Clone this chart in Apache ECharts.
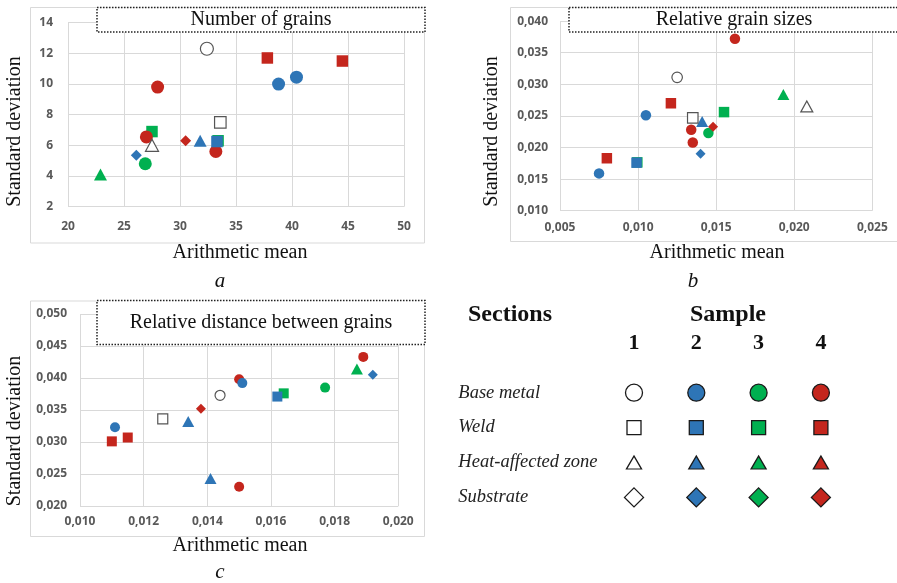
<!DOCTYPE html>
<html>
<head>
<meta charset="utf-8">
<script src="https://cdn.jsdelivr.net/npm/echarts@6/dist/echarts.min.js"></script>
<style>
  html, body { margin: 0; padding: 0; background: #fff; }
  #chart { width: 897px; height: 583px; }
</style>
</head>
<body>
<div id="chart"></div>
<script>
// Samples (columns of the key) and sections (rows of the key)
const sampleLabels = ['1', '2', '3', '4'];
const sectionNames = ['Base metal', 'Weld', 'Heat-affected zone', 'Substrate'];

// Points are [sample, arithmetic mean, standard deviation]
const grainsBaseMetal = [[1, 32.4, 12.3], [2, 38.8, 10.0], [2, 40.4, 10.45], [3, 26.9, 4.8], [4, 27.0, 6.55], [4, 28.0, 9.8], [4, 33.2, 5.6]];
const grainsWeld = [[1, 33.6, 7.5], [2, 33.3, 6.25], [3, 27.5, 6.9], [3, 33.4, 6.3], [4, 37.8, 11.7], [4, 44.5, 11.5]];
const grainsHaz = [[1, 27.5, 6.0], [2, 31.8, 6.3], [3, 22.9, 4.1]];
const grainsSubstrate = [[2, 26.1, 5.35], [4, 30.5, 6.3]];

const sizesBaseMetal = [[1, 0.0125, 0.0311], [2, 0.0075, 0.0159], [2, 0.0105, 0.0251], [3, 0.0145, 0.0223], [4, 0.0134, 0.0228], [4, 0.0135, 0.0208], [4, 0.0162, 0.0372]];
const sizesWeld = [[1, 0.0135, 0.0247], [2, 0.0099, 0.0176], [3, 0.00995, 0.01765], [3, 0.0155, 0.0256], [4, 0.0080, 0.0183], [4, 0.0121, 0.0270]];
const sizesHaz = [[1, 0.0208, 0.0265], [2, 0.0141, 0.0241], [3, 0.0193, 0.0284]];
const sizesSubstrate = [[2, 0.0140, 0.0190], [4, 0.0148, 0.0233]];

const distBaseMetal = [[1, 0.0144, 0.0373], [2, 0.0111, 0.0323], [2, 0.0151, 0.0392], [3, 0.0177, 0.0385], [4, 0.0150, 0.0398], [4, 0.0150, 0.0230], [4, 0.0189, 0.0433]];
const distWeld = [[1, 0.0126, 0.0336], [2, 0.0162, 0.0371], [3, 0.0164, 0.0376], [4, 0.0110, 0.0301], [4, 0.0115, 0.0307]];
const distHaz = [[2, 0.0134, 0.0332], [2, 0.0141, 0.0243], [3, 0.0187, 0.0414]];
const distSubstrate = [[2, 0.0192, 0.0405], [4, 0.0138, 0.0352]];

// Axis ranges: [min, max, interval]
const grainsX = [20, 50, 5], grainsY = [2, 14, 2];
const sizesX = [0.005, 0.025, 0.005], sizesY = [0.010, 0.040, 0.005];
const distX = [0.010, 0.020, 0.002], distY = [0.020, 0.050, 0.005];

// ---- styling ----
const sampleColors = ['#ffffff', '#2e75b6', '#00b050', '#c4261d'];
const sectionSymbols = ['circle', 'rect', 'triangle', 'diamond'];
const drawOrder = [2, 3, 1, 0]; // green, red, blue, white (later ones on top)
const tickFont = { color: '#595959', fontFamily: 'Open Sans', fontWeight: 'bold', fontSize: 12 };
const gridLine = { color: '#d9d9d9', width: 1 };
const serif = 'Liberation Serif';

const panels = [
  { sections: [grainsBaseMetal, grainsWeld, grainsHaz, grainsSubstrate], x: grainsX, y: grainsY,
    grid: { left: 68, top: 22.7, width: 336, height: 184 }, digits: 0,
    sizes: [13, 11.5, [13, 12], 11], xMargin: 14, yMargin: 15 },
  { sections: [sizesBaseMetal, sizesWeld, sizesHaz, sizesSubstrate], x: sizesX, y: sizesY,
    grid: { left: 560, top: 21.1, width: 312.4, height: 189.6 }, digits: 3,
    sizes: [10.5, 10.5, [12, 11], 10], xMargin: 11, yMargin: 12 },
  { sections: [distBaseMetal, distWeld, distHaz, distSubstrate], x: distX, y: distY,
    grid: { left: 80, top: 314, width: 318.3, height: 192 }, digits: 3,
    sizes: [10, 10, [12, 11], 10], xMargin: 10, yMargin: 13 }
];

function fmt(digits) {
  return v => digits ? v.toFixed(digits).replace('.', ',') : String(Math.round(v));
}

const grids = [], xAxes = [], yAxes = [], series = [];

panels.forEach((p, pi) => {
  grids.push(Object.assign({ containLabel: false }, p.grid));
  xAxes.push({
    type: 'value', gridIndex: pi, min: p.x[0], max: p.x[1], interval: p.x[2],
    axisLine: { show: false }, axisTick: { show: false },
    splitLine: { show: true, lineStyle: gridLine },
    axisLabel: Object.assign({ margin: p.xMargin, formatter: fmt(p.digits) }, tickFont)
  });
  yAxes.push({
    type: 'value', gridIndex: pi, min: p.y[0], max: p.y[1], interval: p.y[2],
    axisLine: { show: false }, axisTick: { show: false },
    splitLine: { show: true, lineStyle: gridLine },
    axisLabel: Object.assign({ margin: p.yMargin, formatter: fmt(p.digits) }, tickFont)
  });
  drawOrder.forEach(si => {
    p.sections.forEach((pts, sec) => {
      const data = pts.filter(d => d[0] === si + 1).map(d => [d[1], d[2]]);
      if (!data.length) return;
      const white = si === 0;
      series.push({
        type: 'scatter', xAxisIndex: pi, yAxisIndex: pi,
        symbol: sectionSymbols[sec], symbolSize: p.sizes[sec],
        itemStyle: {
          color: sampleColors[si], opacity: 1,
          borderColor: white ? '#555555' : sampleColors[si], borderWidth: white ? 1.2 : 0
        },
        emphasis: { disabled: true },
        data: data
      });
    });
  });
});

// ---- key: samples across, sections down ----
const keyIndex = panels.length;
grids.push({ left: 602.85, top: 375.25, width: 249.2, height: 139.6 });
xAxes.push({
  type: 'category', gridIndex: keyIndex, data: sampleLabels, position: 'top',
  axisLine: { show: false }, axisTick: { show: false }, splitLine: { show: false },
  axisLabel: { margin: 21, color: '#111', fontFamily: serif, fontWeight: 'bold', fontSize: 22 }
});
yAxes.push({
  type: 'category', gridIndex: keyIndex, data: sectionNames, inverse: true,
  axisLine: { show: false }, axisTick: { show: false }, splitLine: { show: false },
  axisLabel: { margin: 144.5, align: 'left', color: '#222', fontFamily: serif, fontStyle: 'italic', fontSize: 18.5 }
});
const keySizes = [17, 14, [15, 13], 19];
sectionNames.forEach((name, sec) => {
  sampleLabels.forEach((lab, si) => {
    series.push({
      type: 'scatter', xAxisIndex: keyIndex, yAxisIndex: keyIndex,
      symbol: sectionSymbols[sec], symbolSize: keySizes[sec],
      itemStyle: { color: sampleColors[si], borderColor: '#1a1a1a', borderWidth: 1.3, opacity: 1 },
      emphasis: { disabled: true },
      data: [[lab, name]]
    });
  });
});

// ---- frames, captions and axis titles ----
function text(str, x, y, font, opts) {
  return Object.assign({
    type: 'text', x: x, y: y, silent: true,
    style: { text: str, font: font, fill: '#111', textAlign: 'center', textVerticalAlign: 'middle' }
  }, opts || {});
}
function frame(x, y, w, h) {
  return { type: 'rect', silent: true, shape: { x: x, y: y, width: w, height: h },
           style: { fill: 'none', stroke: '#d9d9d9', lineWidth: 1 } };
}
function dotted(x, y, w, h) {
  return { type: 'rect', silent: true, shape: { x: x, y: y, width: w, height: h },
           style: { fill: '#fff', stroke: '#222', lineWidth: 1.5, lineDash: [1.5, 1.5] }, z: 10 };
}
const axisFont = '20px "' + serif + '"';
const titleFont = '20px "' + serif + '"';
const graphic = [
  frame(30.5, 7.5, 394, 235.5),
  frame(510.5, 7.5, 400, 234),
  frame(30.5, 301, 394, 235.5),
  dotted(97, 7.5, 328, 24.5),
  dotted(569, 7.5, 335, 24.5),
  dotted(97, 300.5, 328, 44),
  Object.assign(text('Number of grains', 261, 20, titleFont), { z: 11 }),
  Object.assign(text('Relative grain sizes', 734, 20, titleFont), { z: 11 }),
  Object.assign(text('Relative distance between grains', 261, 323, titleFont), { z: 11 }),
  text('Standard deviation', 15, 131.5, axisFont, { rotation: Math.PI / 2 }),
  text('Standard deviation', 492, 131.5, axisFont, { rotation: Math.PI / 2 }),
  text('Standard deviation', 15, 431, axisFont, { rotation: Math.PI / 2 }),
  text('Arithmetic mean', 240, 253, axisFont),
  text('Arithmetic mean', 717, 253, axisFont),
  text('Arithmetic mean', 240, 546, axisFont),
  text('a', 220, 281, 'italic 21px "' + serif + '"'),
  text('b', 693, 281, 'italic 21px "' + serif + '"'),
  text('c', 220, 572, 'italic 21px "' + serif + '"'),
  text('Sections', 468, 315, 'bold 24px "' + serif + '"', { style: { text: 'Sections', font: 'bold 24px "' + serif + '"', fill: '#111', textAlign: 'left', textVerticalAlign: 'middle' } }),
  text('Sample', 728, 315, 'bold 24px "' + serif + '"')
];

const chart = echarts.init(document.getElementById('chart'), null, { renderer: 'canvas' });
chart.setOption({
  backgroundColor: '#ffffff',
  animation: false,
  grid: grids,
  xAxis: xAxes,
  yAxis: yAxes,
  series: series,
  graphic: graphic
});
</script>
</body>
</html>
